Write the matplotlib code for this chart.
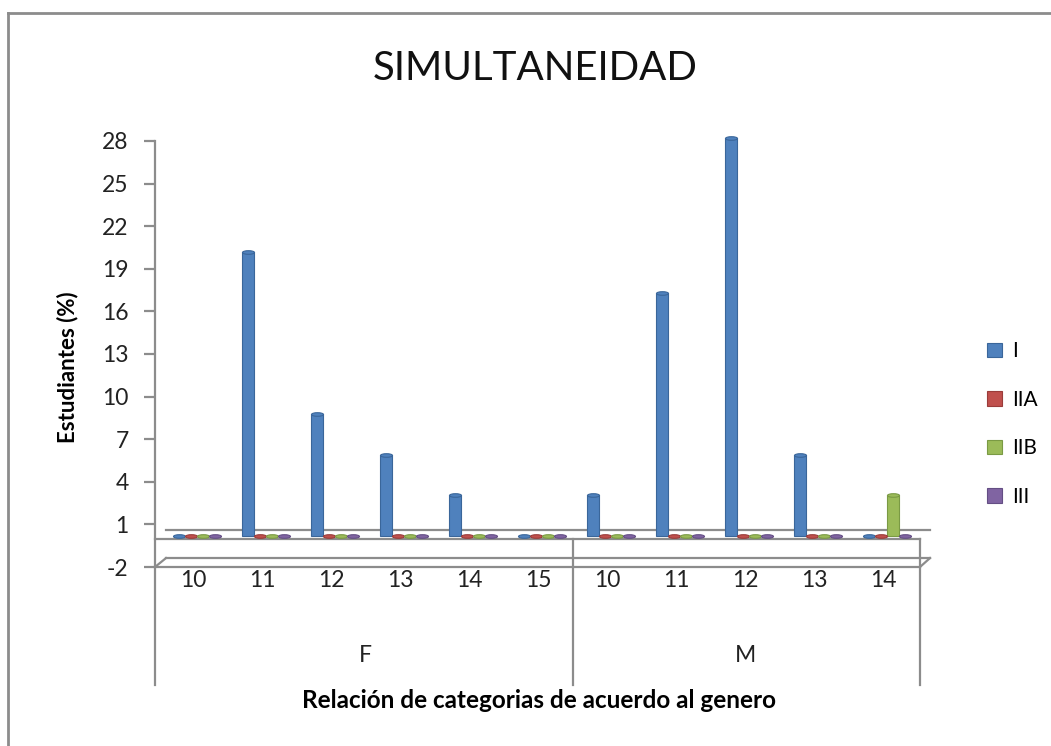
import numpy as np
import matplotlib.pyplot as plt
from matplotlib.path import Path
from matplotlib.transforms import Affine2D, blended_transform_factory
from matplotlib.lines import Line2D

plt.rcParams['font.family'] = ['Lato', 'DejaVu Sans']
plt.rcParams['axes.unicode_minus'] = False

# data
genders = ['F', 'M']
ages = ['10', '11', '12', '13', '14', '15', '10', '11', '12', '13', '14']
group_sizes = [6, 5]
series = ['I', 'IIA', 'IIB', 'III']
val_I = [0, 20, 8.6, 5.7, 2.9, 0, 2.9, 17.1, 28, 5.7, 0]
val_IIA = [0, 0, 0, 0, 0, 0, 0, 0, 0, 0, 0]
val_IIB = [0, 0, 0, 0, 0, 0, 0, 0, 0, 0, 2.9]
val_III = [0, 0, 0, 0, 0, 0, 0, 0, 0, 0, 0]
yticks = [-2, 1, 4, 7, 10, 13, 16, 19, 22, 25, 28]

colors = ['#4F81BD', '#C0504D', '#9BBB59', '#8064A2']
edges = ['#3A669A', '#9A3C3A', '#7A9A44', '#644E84']
gray = '#8C8C8C'
txt = '#222222'

W, H = 1051, 746
fig = plt.figure(figsize=(W / 100, H / 100), dpi=100)
ax = fig.add_axes([155 / W, 1 - 567 / H, 775 / W, 426 / H])

x = np.arange(len(ages))
step = 12 / 69
offsets = [(-14 + 12 * i) / 69 for i in range(4)]
floor = 0.2

# flattened ellipse for the cylinder caps
cap = Path.unit_circle().transformed(Affine2D().scale(1, 0.3))

handles = []
for vals, c, e, off, name in zip([val_I, val_IIA, val_IIB, val_III], colors, edges, offsets, series):
    vals = np.array(vals)
    b = ax.bar(x + off, vals, width=step * 0.95, bottom=floor, color=c,
               edgecolor=e, linewidth=0.8, label=name, zorder=3, clip_on=False)
    handles.append(b)
    ax.scatter(x + off, vals + floor, marker=cap, s=75, color=c,
               edgecolors=e, linewidths=0.8, zorder=4, clip_on=False)

ax.set_xlim(-0.551, 10.681)
ax.set_ylim(-2, 28)
ax.set_yticks(yticks)
ax.set_xticks([])
for s in ['top', 'right', 'bottom']:
    ax.spines[s].set_visible(False)
ax.spines['left'].set_color(gray)
ax.spines['left'].set_linewidth(1.6)
ax.tick_params(axis='y', length=8, width=1.6, color=gray, labelsize=16.5, pad=11,
               labelcolor=txt)

# 3D floor lines
bt = blended_transform_factory(ax.transAxes, ax.transData)
lk = dict(color=gray, lw=1.6, transform=bt, clip_on=False, zorder=2)
d = 11 / 775
r = 765 / 775
ax.add_line(Line2D([d, 1.0], [0.6, 0.6], **lk))
ax.add_line(Line2D([0, r], [0.0, 0.0], **lk))
ax.add_line(Line2D([d, 1.0], [-1.37, -1.37], **lk))
ax.add_line(Line2D([0, r], [-2, -2], **lk))
ax.add_line(Line2D([0, d], [-2, -1.37], **lk))
ax.add_line(Line2D([r, 1.0], [-2, -1.37], **lk))

# category separators
ybot = -10.3
ax.add_line(Line2D([0, 0], [-2, ybot], **lk))
ax.add_line(Line2D([r, r], [0, ybot], **lk))
sep = group_sizes[0] - 0.5
ax.plot([sep, sep], [0, ybot], color=gray, lw=1.6, clip_on=False, zorder=2)

# category labels
for xi, a in zip(x, ages):
    ax.text(xi, -2.95, a, ha='center', va='center', fontsize=16.5,
            color=txt, clip_on=False)
start = 0
for g, n in zip(genders, group_sizes):
    ax.text(start + (n - 1) / 2, -8.25, g, ha='center', va='center',
            fontsize=16.5, color=txt, clip_on=False)
    start += n

ax.set_ylabel('Estudiantes (%)', fontsize=16, fontweight='bold')
ax.yaxis.set_label_coords(-77 / 775, 0.47)
ax.text(0.495, -(700 - 567) / 426, 'Relación de categorias de acuerdo al genero',
        transform=ax.transAxes, ha='center', va='center', fontsize=17.5,
        fontweight='bold')

fig.text(535 / W, 1 - 68 / H, 'SIMULTANEIDAD', ha='center', va='center',
         fontsize=29, color='#111111')

ax.legend(handles=handles, loc='center left', bbox_to_anchor=(987 / W, 1 - 424 / H),
          bbox_transform=fig.transFigure, frameon=False, fontsize=15,
          handlelength=0.7, handleheight=0.7, handletextpad=0.5,
          labelspacing=1.37, borderpad=0, borderaxespad=0)

# outer chart border
fig.add_artist(Line2D([8 / W, 1.0], [1 - 13 / H, 1 - 13 / H], color=gray, lw=2,
                      transform=fig.transFigure))
fig.add_artist(Line2D([8 / W, 8 / W], [1 - 13 / H, 0.0], color=gray, lw=2,
                      transform=fig.transFigure))

plt.savefig('out.png', dpi=100)
